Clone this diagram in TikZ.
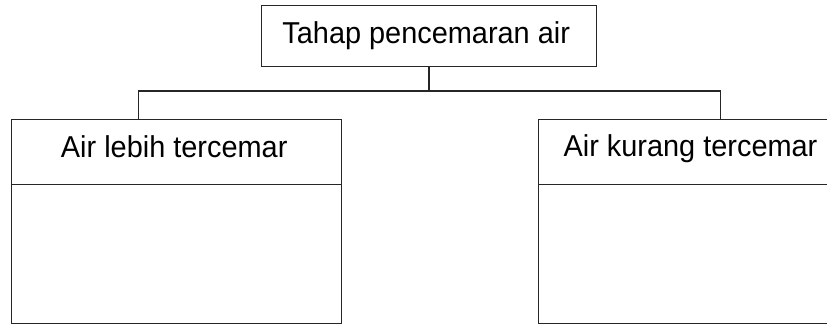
\documentclass[tikz,border=0pt]{standalone}
\usepackage{fontspec}
\setmainfont{Liberation Sans}[FakeStretch=0.957]
\begin{document}
\begin{tikzpicture}[x=1pt,y=-1pt,
  frame/.style={draw=black!85, line width=1.4pt, rectangle, inner sep=0pt},
  link/.style={draw=black!85, line width=1.4pt},
  label/.style={font=\fontsize{30.2}{36}\selectfont, anchor=base, inner sep=0pt}]
  \useasboundingbox (0,0) rectangle (827,324);
  \clip (0,0) rectangle (827,324);
  % top box
  \node[frame, minimum width=335.5pt, minimum height=60.7pt, anchor=north west] (top) at (260.5,5) {};
  \node[label] (toptxt) at (426.2,43.3) {Tahap pencemaran air};
  % left box with header divider
  \node[frame, minimum width=330pt, minimum height=203.7pt, anchor=north west] (lbox) at (10.7,119) {};
  \coordinate (ldiv) at (10.7,184.5);
  \draw[link] (ldiv) -- (ldiv -| lbox.east);
  \node[label] (ltxt) at (174.2,157.3) {Air lebih tercemar};
  % right box, running off the right edge
  \node[frame, minimum width=330pt, minimum height=203.7pt, anchor=north west] (rbox) at (538,119) {};
  \coordinate (rdiv) at (538,184.5);
  \draw[link] (rdiv) -- (rdiv -| rbox.east);
  \node[label] (rtxt) at (690.5,156.5) {Air kurang tercemar};
  % connectors
  \coordinate (bl) at (138.7,91);
  \coordinate (br) at (720.5,91);
  \draw[link] (top.south) -- (top.south |- bl);
  \draw[link] (bl |- lbox.north) -- (bl) -- (br) -- (br |- rbox.north);
\end{tikzpicture}
\end{document}
